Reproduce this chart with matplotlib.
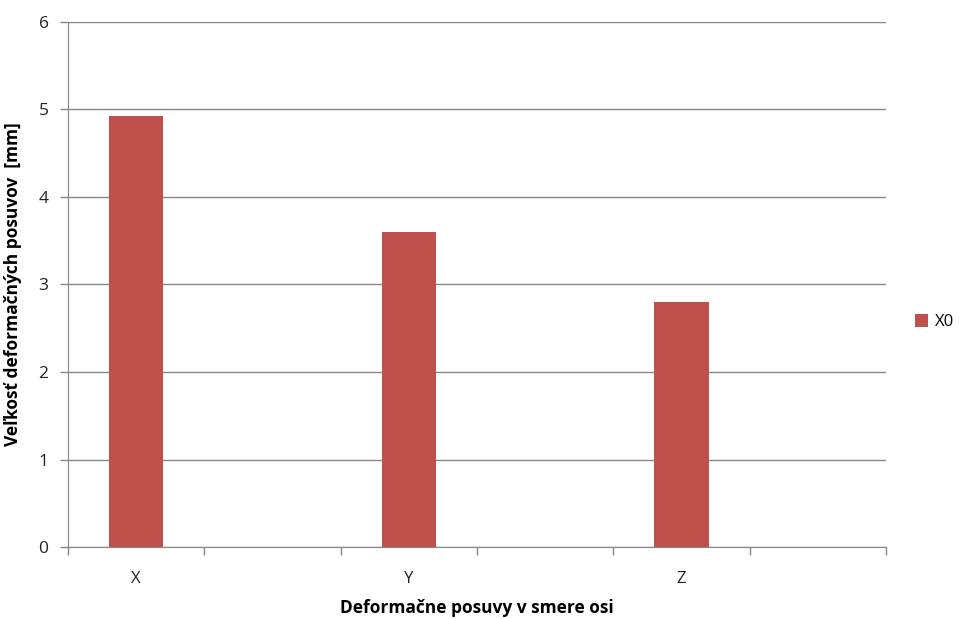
import matplotlib.pyplot as plt
import numpy as np

# six category slots; every other one is empty, as in the original sheet
categories = ["X", "", "Y", "", "Z", ""]
values = [4.93, np.nan, 3.60, np.nan, 2.80, np.nan]
series_name = "X0"
y_ticks = [0, 1, 2, 3, 4, 5, 6]

plt.rcParams["font.family"] = ["Open Sans", "DejaVu Sans"]

fig = plt.figure(figsize=(9.59, 6.19), dpi=100)
ax = fig.add_axes([0.0709, 0.1163, 0.853, 0.8482])

x = np.arange(len(categories)) + 0.5
ax.bar(x, values, width=0.40, color="#C0504D", label=series_name, zorder=3)

ax.set_xlim(0, len(categories))
ax.set_ylim(0, 6)
ax.set_yticks(y_ticks)
ax.set_yticklabels([str(t) for t in y_ticks], fontsize=12.5, color="#222222")
ax.set_xticks(x)
ax.set_xticklabels(categories, fontsize=12, color="#222222")
ax.tick_params(axis="x", length=0, pad=17)
ax.set_xticks(np.arange(len(categories) + 1), minor=True)
ax.tick_params(axis="x", which="minor", length=6, color="#868686", width=1)
ax.tick_params(axis="y", length=6, color="#868686", width=1, pad=8)

ax.grid(axis="y", color="#868686", linewidth=1, zorder=0)
for side in ("top", "right"):
    ax.spines[side].set_visible(False)
for side in ("left", "bottom"):
    ax.spines[side].set_color("#868686")

ax.set_xlabel("Deformačne posuvy v smere osi", fontsize=12.5, fontweight="bold", labelpad=9)
ax.set_ylabel("Veľkosť deformačných posuvov  [mm]", fontsize=12.5, fontweight="bold", labelpad=12)

ax.legend(loc="center left", bbox_to_anchor=(1.035, 0.4286), frameon=False, fontsize=12,
          borderaxespad=0, borderpad=0,
          handlelength=0.8, handleheight=0.8, handletextpad=0.4)

fig.savefig("out.png", dpi=100)
